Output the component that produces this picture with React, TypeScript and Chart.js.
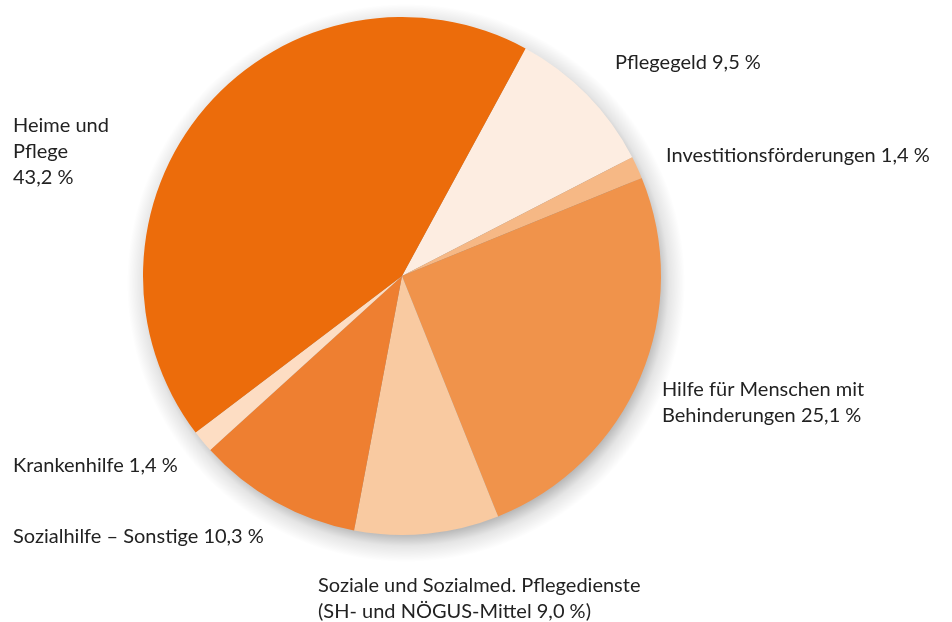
import React, { useEffect, useRef } from "react";
import { Chart, registerables } from "chart.js";

Chart.register(...registerables);

const categories = [
  "Pflegegeld",
  "Investitionsförderungen",
  "Hilfe für Menschen mit Behinderungen",
  "Soziale und Sozialmed. Pflegedienste",
  "Sozialhilfe – Sonstige",
  "Krankenhilfe",
  "Heime und Pflege",
];
const shares = [9.5, 1.4, 25.1, 9.0, 10.3, 1.4, 43.2];
const sliceColors = ["#FDEDE1", "#F6B885", "#F0934B", "#F9CAA1", "#EE7F31", "#FDDDC3", "#EC6C0B"];
const labelLines = [
  ["Pflegegeld 9,5 %"],
  ["Investitionsförderungen 1,4 %"],
  ["Hilfe für Menschen mit", "Behinderungen 25,1 %"],
  ["Soziale und Sozialmed. Pflegedienste", "(SH- und NÖGUS-Mittel 9,0 %)"],
  ["Sozialhilfe – Sonstige 10,3 %"],
  ["Krankenhilfe 1,4 %"],
  ["Heime und", "Pflege", "43,2 %"],
];
// label anchor: left x, first baseline y (layout only)
const labelAnchors = [
  [615, 69],
  [666, 162],
  [662, 396],
  [318, 592],
  [13, 543],
  [13, 472],
  [13, 132],
];
const LINE_HEIGHT = 26;

export default function App() {
  const ref = useRef<HTMLCanvasElement | null>(null);
  useEffect(() => {
    if (!ref.current) return;
    const shadowPlugin = {
      id: "pieShadow",
      beforeDatasetsDraw(chart: any) {
        const a = chart.chartArea;
        const x = (a.left + a.right) / 2 + 4;
        const y = (a.top + a.bottom) / 2 + 7;
        const r = Math.min(a.right - a.left, a.bottom - a.top) / 2;
        const ctx = chart.ctx;
        ctx.save();
        const g = ctx.createRadialGradient(x, y, r - 20, x, y, r + 20);
        g.addColorStop(0, "rgba(0,0,0,0.42)");
        g.addColorStop(0.3, "rgba(0,0,0,0.28)");
        g.addColorStop(0.6, "rgba(0,0,0,0.1)");
        g.addColorStop(1, "rgba(0,0,0,0)");
        ctx.fillStyle = g;
        ctx.beginPath();
        ctx.arc(x, y, r + 20, 0, Math.PI * 2);
        ctx.closePath();
        ctx.fill();
        ctx.restore();
      },
    };
    const labelPlugin = {
      id: "sliceLabels",
      afterDraw(chart: any) {
        const ctx = chart.ctx;
        ctx.save();
        ctx.fillStyle = "#222222";
        ctx.font = "20px Lato";
        ctx.textBaseline = "alphabetic";
        ctx.textAlign = "left";
        labelLines.forEach((lines, i) => {
          const [lx, ly] = labelAnchors[i];
          lines.forEach((t, j) => ctx.fillText(t, lx, ly + j * LINE_HEIGHT));
        });
        ctx.restore();
      },
    };
    const chart = new Chart(ref.current, {
      type: "pie",
      data: {
        labels: categories,
        datasets: [
          {
            data: shares,
            backgroundColor: sliceColors,
            borderWidth: 0,
          },
        ],
      },
      options: {
        responsive: false,
        animation: false,
        rotation: 28.5,
        layout: { padding: { left: 143, right: 291, top: 17, bottom: 87 } },
        plugins: { legend: { display: false }, tooltip: { enabled: false } },
      },
      plugins: [shadowPlugin, labelPlugin],
    });
    return () => chart.destroy();
  }, []);
  return (
    <div style={{ position: "fixed", left: 0, top: 0, width: 952, height: 622, background: "#fff" }}>
      <canvas ref={ref} width={952} height={622} />
    </div>
  );
}
